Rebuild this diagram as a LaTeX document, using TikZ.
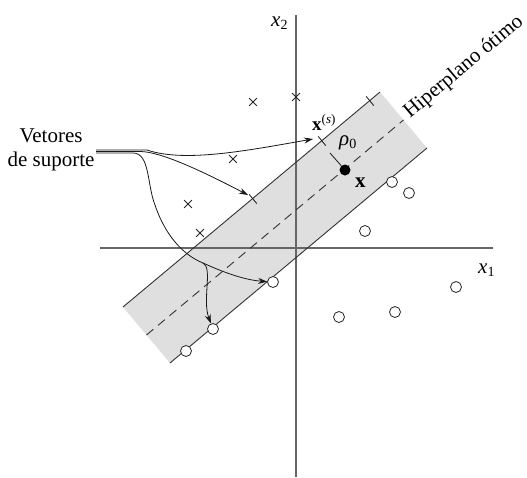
\documentclass[tikz,border=0pt]{standalone}
\usepackage{fontspec}
\setmainfont{Liberation Serif}
\usetikzlibrary{arrows.meta,shapes.misc}
\begin{document}
\begin{tikzpicture}[x=1pt,y=-1pt,
  lbl/.style={font=\fontsize{19}{24}\selectfont, inner sep=0pt},
  biglbl/.style={font=\fontsize{21}{24}\selectfont, inner sep=0pt},
  bandline/.style={draw=black!80, line width=0.9pt},
  axis/.style={draw=black!60, line width=1.2pt},
  sv/.style={circle, draw=black!85, fill=white, line width=0.8pt, minimum size=11pt, inner sep=0pt},
  dotx/.style={circle, fill=black, minimum size=11pt, inner sep=0pt},
  xmark/.style={cross out, draw=black!85, line width=0.8pt, minimum size=7pt, inner sep=0pt},
  tick/.style={draw=black!85, line width=0.9pt},
  arr/.style={draw=black!90, line width=0.8pt, -{Stealth[length=9pt,width=6pt]}},
  conn/.style={draw=black!90, line width=0.8pt}
]
\useasboundingbox (0,0) rectangle (527,477);
\clip (0,0) rectangle (527,477);
\fill[white] (0,0) rectangle (527,477);

% band
\coordinate (A1) at (123,307);
\coordinate (A2) at (380,92);
\coordinate (B1) at (170,363);
\coordinate (B2) at (427,148);
\coordinate (C1) at (146.5,335);
\coordinate (C2) at (403.5,120);
\fill[gray!25] (A1) -- (A2) -- (B2) -- (B1) -- cycle;

% axes
\coordinate (yb) at (296,477);
\coordinate (yt) at (296,15);
\coordinate (xl) at (100,248);
\coordinate (xr) at (493,248);
\draw[axis] (yb) -- (yt);
\draw[axis] (xl) -- (xr);

% band lines
\draw[bandline] (A1) -- (A2);
\draw[bandline] (B1) -- (B2);
\draw[bandline, dash pattern=on 9pt off 6pt] (C1) -- (C2);

% ticks (support vectors on upper margin)
\foreach \a/\b in {253/199, 322/141, 370/101}
  \draw[tick] (\a,\b) ++(-3.8,-4.6) -- ++(7.6,9.2);

% crosses
\node[xmark] (c1) at (253,102) {};
\node[xmark] (c2) at (296,97) {};
\node[xmark] (c3) at (233,159) {};
\node[xmark] (c4) at (188,204) {};
\node[xmark] (c5) at (200,233) {};

% circles
\node[sv] (o1) at (392,182) {};
\node[sv] (o2) at (409,193) {};
\node[sv] (o3) at (365,231) {};
\node[sv] (o4) at (273,282) {};
\node[sv] (o5) at (456,287) {};
\node[sv] (o6) at (395,312) {};
\node[sv] (o7) at (339,317) {};
\node[sv] (o8) at (213,329) {};
\node[sv] (o9) at (186,351) {};

% point x and rho
\node[dotx] (dx) at (345,170) {};
\coordinate (rs) at (330,153);
\draw[conn] (rs) -- (dx);

% labels
\node[biglbl, anchor=base west] (lx2) at (271,26) {\textit{x}\raisebox{-0.35ex}{\fontsize{14}{14}\selectfont 2}};
\node[biglbl, anchor=base west] (lx1) at (478,273) {\textit{x}\raisebox{-0.35ex}{\fontsize{14}{14}\selectfont 1}};
\node[lbl, anchor=base west] (lxs) at (312,130) {\textbf{x}\raisebox{0.7ex}{\fontsize{13}{13}\selectfont(\textit{s})}};
\node[biglbl, anchor=base west] (lrho) at (339,145) {\textit{ρ}\raisebox{-0.35ex}{\fontsize{14}{14}\selectfont 0}};
\node[biglbl, anchor=base west] (lxx) at (355,187) {\textbf{x}};
\node[biglbl, anchor=base west, rotate=40] (hip) at (410,119) {Hiperplano ótimo};
\node[biglbl, align=center] (vs) at (51,150) {Vetores\\de suporte};

% connectors from "Vetores de suporte"
\coordinate (s1) at (96,150);
\coordinate (s2) at (96,151.5);
\coordinate (s3) at (96,153);
\coordinate (tx) at (313,139);
\coordinate (tm) at (248,195);
\coordinate (br) at (203,263);
\draw[arr] (s1) -- (147,150) .. controls (185,163) and (250,150) .. (tx);
\draw[arr] (s2) -- (140,151.5) .. controls (160,151.5) and (200,170) .. (tm);
\draw[conn] (s3) -- (133,153) .. controls (150,153) and (147,185) .. (155,205)
   .. controls (165,235) and (183,255) .. (br);
\draw[arr] (br) .. controls (225,273) and (245,280) .. (o4);
\draw[arr] (br) .. controls (213,268) and (202,300) .. (o8);
\end{tikzpicture}
\end{document}
